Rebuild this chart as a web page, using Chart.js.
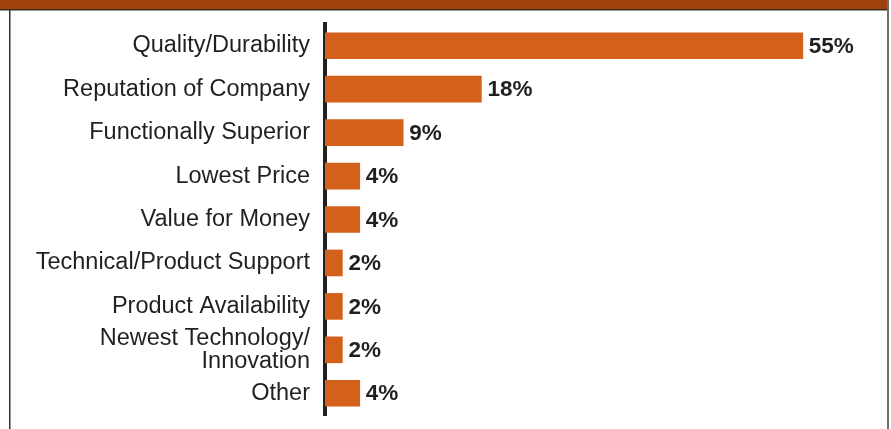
<!DOCTYPE html>
<html>
<head>
<meta charset="utf-8">
<script src="https://cdn.jsdelivr.net/npm/chart.js@4/dist/chart.umd.min.js"></script>
<style>
body{margin:0;background:#fff}
</style>
</head>
<body>
<canvas id="chart" width="891" height="429"></canvas>
<script>
const categories=["Quality/Durability","Reputation of Company","Functionally Superior","Lowest Price","Value for Money","Technical/Product Support","Product Availability",["Newest Technology/","Innovation"],"Other"]
const percents=[55,18,9,4,4,2,2,2,4]
const xMax=64

const barColor="#d3601b"
const inkColor="#231f20"

// frame: brown band on top, thin border left and right
const framePlugin={
  id:"frame",
  beforeDraw(chart){
    const ctx=chart.ctx
    ctx.save()
    ctx.fillStyle="#a0410e"
    ctx.fillRect(0,0,887,9)
    ctx.fillStyle="#3a2a20"
    ctx.fillRect(0,9,887,1.5)
    ctx.fillStyle="#333"
    ctx.fillRect(9,10,1.5,419)
    ctx.fillStyle="#6e6e6e"
    ctx.fillRect(887,0,2,429)
    ctx.restore()
  }
}

// percent labels at the end of each bar
const valuePlugin={
  id:"values",
  afterDatasetsDraw(chart){
    const ctx=chart.ctx
    const meta=chart.getDatasetMeta(0)
    ctx.save()
    ctx.font="bold 22.5px 'Liberation Sans', Arial, sans-serif"
    ctx.fillStyle=inkColor
    ctx.textBaseline="middle"
    ctx.textAlign="left"
    meta.data.forEach((bar,i)=>{
      ctx.fillText(percents[i]+"%",bar.x+6,bar.y+1)
    })
    ctx.restore()
  }
}

new Chart("chart",{
  type:"bar",
  data:{
    labels:categories,
    datasets:[{
      data:percents,
      backgroundColor:barColor,
      barThickness:26
    }]
  },
  options:{
    indexAxis:"y",
    responsive:false,
    animation:false,
    layout:{padding:{top:24,bottom:14,right:10,left:0}},
    plugins:{legend:{display:false},tooltip:{enabled:false}},
    scales:{
      x:{
        display:false,
        min:0,
        max:xMax
      },
      y:{
        z:1,
        grid:{display:false,drawTicks:false},
        border:{display:true,width:4,color:inkColor},
        ticks:{
          autoSkip:false,
          color:inkColor,
          padding:15,
          font:{family:"'Liberation Sans', Arial, sans-serif",size:23.5,lineHeight:1.0}
        },
        afterFit(scale){
          scale.width=325
          scale.paddingTop=0
          scale.paddingBottom=0
        }
      }
    }
  },
  plugins:[framePlugin,valuePlugin]
})
</script>
</body>
</html>
